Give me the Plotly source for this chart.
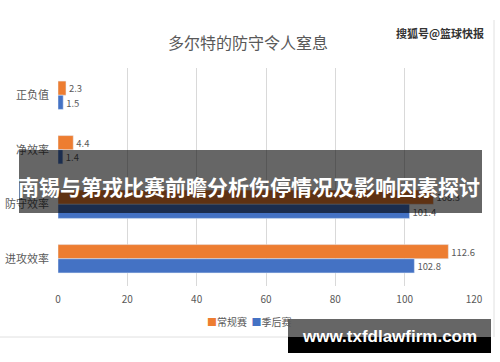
import plotly.graph_objects as go

categories = ["正负值", "净效率", "防守效率", "进攻效率"]
regular = [2.3, 4.4, 108.3, 112.6]
playoffs = [1.5, 1.4, 101.4, 102.8]
series_names = ["常规赛", "季后赛"]
series_colors = ["#ED7D31", "#4472C4"]
title_text = "多尔特的防守令人窒息"
banner_text = "南锡与第戎比赛前瞻分析伤停情况及影响因素探讨"
wm_top = "搜狐号@篮球快报"
wm_bottom = "www.txfdlawfirm.com"

W, H = 500, 362
L, R, T, B = 58, 474, 68, 286

def px(x):
    return (x - L) / (R - L)

def py(y):
    return (B - y) / (B - T)

GRAY = "#595959"
FONT = "Noto Sans CJK SC, Noto Sans, sans-serif"

fig = go.Figure()
for vals, name, col in [(regular, series_names[0], series_colors[0]),
                        (playoffs, series_names[1], series_colors[1])]:
    fig.add_trace(go.Bar(y=categories, x=vals, name=name, orientation="h",
                         marker_color=col, text=[str(v) for v in vals],
                         textposition="outside", textfont=dict(color=GRAY, size=10),
                         cliponaxis=False, showlegend=False, hoverinfo="skip"))

fig.update_layout(
    width=W, height=H,
    margin=dict(l=L, r=W - R, t=T, b=H - B, autoexpand=False),
    paper_bgcolor="white", plot_bgcolor="white",
    barmode="group", bargap=0.48, bargroupgap=0,
    font=dict(family=FONT, color=GRAY),
    showlegend=False,
    xaxis=dict(range=[0, 120], dtick=20, showgrid=True, gridcolor="#D9D9D9", gridwidth=1,
               zeroline=False, showline=False, tickfont=dict(size=10, color=GRAY),
               ticks="", ticklabelstandoff=6, automargin=False),
    yaxis=dict(autorange="reversed", showgrid=False, zeroline=False, showline=False,
               tickfont=dict(size=11, color=GRAY), ticks="", ticklabelstandoff=8,
               automargin=False),
)

fig.add_annotation(text=title_text, xref="paper", yref="paper", x=px(248), y=py(42),
                   showarrow=False, font=dict(size=16, color=GRAY, family=FONT),
                   xanchor="center", yanchor="middle")
fig.add_annotation(text="<b>" + wm_top + "</b>", xref="paper", yref="paper", x=px(440), y=py(33),
                   showarrow=False, font=dict(size=11, color="#333333", family=FONT),
                   xanchor="center", yanchor="middle")

legend_html = "&nbsp;&nbsp;".join(
    '<span style="color:%s">■</span>%s' % (c, n) for n, c in zip(series_names, series_colors))
fig.add_annotation(text=legend_html, xref="paper", yref="paper", x=px(249), y=py(321),
                   showarrow=False, font=dict(size=10, color=GRAY, family=FONT),
                   xanchor="center", yanchor="middle")

shapes = []
shapes.append(dict(type="line", xref="paper", yref="paper", x0=px(0), x1=px(290),
                   y0=py(337), y1=py(337), line=dict(color="#E0E0E0", width=1), layer="below"))
shapes.append(dict(type="line", xref="paper", yref="paper", x0=px(494), x1=px(494),
                   y0=py(20), y1=py(337), line=dict(color="#E0E0E0", width=1), layer="below"))
shapes.append(dict(type="rect", xref="paper", yref="paper", x0=px(19), x1=px(482),
                   y0=py(213), y1=py(150), fillcolor="rgba(0,0,0,0.6)", line=dict(width=0),
                   layer="above"))
shapes.append(dict(type="rect", xref="paper", yref="paper", x0=px(288), x1=px(491),
                   y0=py(337), y1=py(319), fillcolor="rgba(0,0,0,0.6)", line=dict(width=0),
                   layer="above"))
shapes.append(dict(type="rect", xref="paper", yref="paper", x0=px(288), x1=px(491),
                   y0=py(353), y1=py(337), fillcolor="#000000", line=dict(width=0),
                   layer="above"))
fig.update_layout(shapes=shapes)

fig.add_annotation(text="<b>" + banner_text + "</b>", xref="paper", yref="paper",
                   x=px(249), y=py(186), showarrow=False,
                   font=dict(size=21, color="white", family=FONT),
                   xanchor="center", yanchor="middle")
fig.add_annotation(text="<b>" + wm_bottom + "</b>", xref="paper", yref="paper",
                   x=px(389), y=py(336), showarrow=False,
                   font=dict(size=17, color="white", family="Liberation Sans, Arial, sans-serif"),
                   xanchor="center", yanchor="middle")

fig.write_html("out.html", config={"displayModeBar": False},
               post_script="document.body.style.margin='0';document.body.style.overflow='hidden';")
